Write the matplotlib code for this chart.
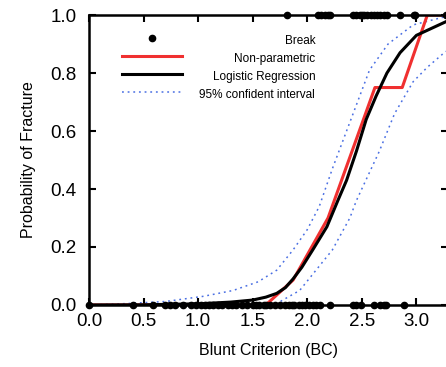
import matplotlib
matplotlib.use('Agg')
import matplotlib.pyplot as plt
from matplotlib.lines import Line2D

plt.rcParams['font.family'] = ['Liberation Sans', 'DejaVu Sans']

# observations: BC value of cases with / without a fracture
break_x = [1.81, 2.10, 2.13, 2.16, 2.19, 2.21, 2.42, 2.45, 2.48, 2.50, 2.52,
           2.55, 2.58, 2.61, 2.64, 2.67, 2.70, 2.73, 2.85, 2.98, 2.99, 3.27]
nobreak_x = [0.0, 0.40, 0.59, 0.70, 0.74, 0.79, 0.86, 0.93, 0.98, 1.03, 1.06,
             1.10, 1.14, 1.18, 1.22, 1.27, 1.31, 1.35, 1.40, 1.45, 1.50, 1.53,
             1.56, 1.60, 1.62, 1.66, 1.70, 1.75, 1.80, 1.83, 1.86, 1.88, 1.92,
             1.95, 1.98, 2.02, 2.05, 2.08, 2.12, 2.21, 2.42, 2.45, 2.49, 2.61,
             2.67, 2.70, 2.72, 2.89]

# non-parametric estimate
np_x = [0.0, 1.62, 1.87, 2.19, 2.62, 2.87, 3.10, 3.30]
np_y = [0.0, 0.0, 0.086, 0.30, 0.75, 0.75, 1.0, 1.0]

# logistic regression fit
lr_x = [0.0, 0.5, 1.0, 1.3, 1.5, 1.62, 1.72, 1.80, 1.87, 1.95, 2.05, 2.18,
        2.28, 2.36, 2.45, 2.54, 2.63, 2.73, 2.85, 3.0, 3.27]
lr_y = [0.0001, 0.0007, 0.004, 0.01, 0.017, 0.027, 0.04, 0.06, 0.09, 0.13,
        0.19, 0.27, 0.36, 0.43, 0.53, 0.64, 0.72, 0.80, 0.87, 0.93, 0.977]

# 95% interval
ci_hi_x = [0.0, 0.35, 0.7, 1.05, 1.32, 1.55, 1.72, 1.87, 2.0, 2.11, 2.23,
           2.45, 2.57, 2.74, 2.97, 3.27]
ci_hi_y = [0.0, 0.005, 0.012, 0.03, 0.05, 0.08, 0.12, 0.19, 0.26, 0.34, 0.47,
           0.69, 0.81, 0.90, 0.966, 0.995]
ci_lo_x = [0.0, 1.5, 1.72, 1.93, 2.23, 2.39, 2.45, 2.66, 2.80, 2.97, 3.10, 3.27]
ci_lo_y = [0.0, 0.0, 0.005, 0.05, 0.19, 0.30, 0.36, 0.53, 0.66, 0.77, 0.82, 0.875]

labels = ['Break', 'Non-parametric', 'Logistic Regression', '95% confident interval']

blue = '#4a6fe3'
red = '#f03030'
dots = (0, (1.2, 2.5))

fig = plt.figure(figsize=(4.46, 3.67), dpi=100)
ax = fig.add_axes([0.1996, 0.169, 0.805, 0.79])

ax.plot(ci_hi_x, ci_hi_y, ls=dots, color=blue, lw=1.1)
ax.plot(ci_lo_x, ci_lo_y, ls=dots, color=blue, lw=1.1)
ax.plot(np_x, np_y, color=red, lw=2.2)
ax.plot(lr_x, lr_y, color='black', lw=2.2)
ax.plot(break_x, [1.0] * len(break_x), 'o', color='black', ms=4.5, clip_on=False, zorder=5)
ax.plot(nobreak_x, [0.0] * len(nobreak_x), 'o', color='black', ms=4.5, clip_on=False, zorder=5)

ax.set_xlim(0, 3.29)
ax.set_ylim(0, 1.0)
ax.set_xticks([0.0, 0.5, 1.0, 1.5, 2.0, 2.5, 3.0])
ax.set_yticks([0.0, 0.2, 0.4, 0.6, 0.8, 1.0])
ax.xaxis.set_major_formatter(plt.FormatStrFormatter('%.1f'))
ax.yaxis.set_major_formatter(plt.FormatStrFormatter('%.1f'))
ax.tick_params(direction='in', length=5, width=1.5, labelsize=13.5,
               top=True, right=True)
ax.tick_params(axis='y', pad=9)
ax.tick_params(axis='x', pad=6)
for s in ax.spines.values():
    s.set_linewidth(1.8)

ax.set_xlabel('Blunt Criterion (BC)', fontsize=11.5, labelpad=9)
ax.set_ylabel('Probability of Fracture', fontsize=11.5, labelpad=10)

# legend drawn by hand so the labels can be right aligned
handles = [
    dict(ls='none', marker='o', color='black', ms=4.5),
    dict(color=red, lw=2.2),
    dict(color='black', lw=2.2),
    dict(ls=dots, color=blue, lw=1.1),
]
for i, (h, lab) in enumerate(zip(handles, labels)):
    yy = 0.921 - i * 0.062
    if h.get('marker'):
        ax.add_line(Line2D([0.175], [yy], transform=ax.transAxes, **h))
    else:
        ax.add_line(Line2D([0.092, 0.259], [yy, yy], transform=ax.transAxes, **h))
    ax.text(0.63, yy - 0.011, lab, transform=ax.transAxes, ha='right',
            va='center', fontsize=8.5)

fig.savefig('out.png', dpi=100)
